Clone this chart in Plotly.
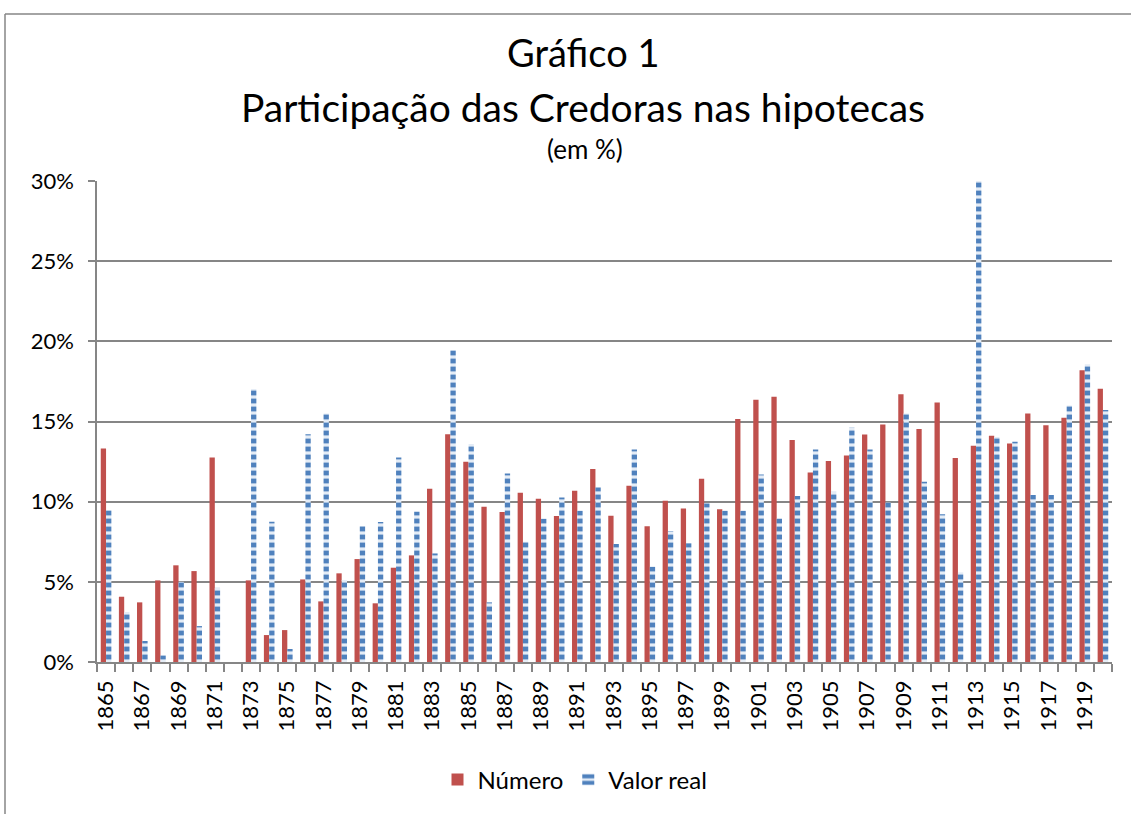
import plotly.graph_objects as go

years = list(range(1865, 1921))
numero = [13.32, 4.07, 3.72, 5.09, 6.03, 5.67, 12.76, 0.0, 5.09, 1.68,
          1.99, 5.15, 3.78, 5.53, 6.42, 3.66, 5.88, 6.65, 10.80, 14.21,
          12.49, 9.68, 9.35, 10.55, 10.18, 9.10, 10.68, 12.03, 9.12, 10.99,
          8.46, 10.06, 9.58, 11.43, 9.52, 15.15, 16.35, 16.54, 13.84, 11.82,
          12.53, 12.88, 14.19, 14.81, 16.70, 14.54, 16.19, 12.72, 13.48, 14.11,
          13.63, 15.50, 14.77, 15.23, 18.20, 17.04]
valor_real = [9.47, 3.12, 1.31, 0.40, 5.00, 2.24, 4.63, 0.0, 17.02, 8.75,
              0.81, 14.21, 15.50, 5.11, 8.48, 8.73, 12.76, 9.37, 6.77, 19.45,
              13.59, 3.72, 11.76, 7.50, 8.93, 10.26, 9.43, 10.89, 7.36, 13.26,
              5.94, 8.17, 7.40, 9.89, 9.43, 9.43, 11.70, 8.95, 10.35, 13.26,
              10.62, 14.63, 13.26, 9.95, 15.50, 11.24, 9.22, 5.59, 30.0, 14.04,
              13.73, 10.41, 10.41, 16.00, 18.57, 15.71]
tick_years = list(range(1865, 1921, 2))
y_ticks = [0, 5, 10, 15, 20, 25, 30]

FONT = "Lato"
RED = "#C0504D"
BLUE = "#4F81BD"
GRID = "#868686"

fig = go.Figure()
fig.add_trace(go.Bar(x=years, y=numero, name="Número", marker=dict(color=RED, line=dict(width=0))))
fig.add_trace(go.Bar(x=years, y=valor_real, name="Valor real",
                     marker=dict(color=BLUE, line=dict(width=0),
                                 pattern=dict(shape="-", fgcolor=BLUE, bgcolor="#E4ECF6",
                                              fgopacity=1, size=8, solidity=0.6,
                                              fillmode="replace"))))

L, R, T, B = 97, 19, 181, 152
W, H = 1131, 814
pw, ph = W - L - R, H - T - B

def px(x):
    return (x - L) / pw

def py(y):
    return (H - B - y) / ph

fig.update_layout(
    width=W, height=H,
    margin=dict(l=L, r=R, t=T, b=B, pad=0, autoexpand=False),
    paper_bgcolor="white", plot_bgcolor="white",
    barmode="group", bargap=0.415, bargroupgap=0,
    font=dict(family=FONT, color="black", size=22),
    showlegend=True,
    legend=dict(orientation="h", x=px(575), xanchor="center", y=py(780), yanchor="middle",
                font=dict(size=24), itemwidth=30, traceorder="normal"),
    xaxis=dict(range=[1864.5, 1920.5], tickmode="array", tickvals=tick_years,
               ticktext=[str(t) for t in tick_years], tickangle=-90, ticks="",
               showgrid=False, showline=True, linecolor=GRID, linewidth=1.5,
               tickfont=dict(size=22), ticklabelstandoff=8, automargin=False,
               minor=dict(tickmode="array", tickvals=[y - 0.5 for y in years] + [1920.5],
                          ticks="outside", ticklen=8, tickcolor=GRID, tickwidth=1.5, showgrid=False)),
    yaxis=dict(range=[0, 30], tickmode="array", tickvals=y_ticks,
               ticktext=[f"{v}%" for v in y_ticks], ticks="outside", ticklen=7,
               tickcolor=GRID, tickwidth=1.5, showgrid=True, gridcolor=GRID, gridwidth=1.5,
               showline=True, linecolor=GRID, linewidth=1.5, zeroline=False,
               tickfont=dict(size=22), ticklabelstandoff=10, automargin=False),
)

fig.add_annotation(text="Gráfico 1", x=px(583), y=py(52), xref="paper", yref="paper",
                   showarrow=False, font=dict(size=38, family=FONT), xanchor="center", yanchor="middle")
fig.add_annotation(text="Participação das Credoras nas hipotecas", x=px(583), y=py(107),
                   xref="paper", yref="paper", showarrow=False,
                   font=dict(size=39, family=FONT), xanchor="center", yanchor="middle")
fig.add_annotation(text="(em %)", x=px(585), y=py(149), xref="paper", yref="paper",
                   showarrow=False, font=dict(size=26, family=FONT), xanchor="center", yanchor="middle")

# chart border (cut off at right/bottom as in the reference)
fig.add_shape(type="line", xref="paper", yref="paper", x0=px(5), y0=py(14), x1=px(1140), y1=py(14),
              line=dict(color=GRID, width=1.5))
fig.add_shape(type="line", xref="paper", yref="paper", x0=px(5), y0=py(14), x1=px(5), y1=py(830),
              line=dict(color=GRID, width=1.5))

fig.write_html("out.html", config={"displayModeBar": False},
               post_script="document.body.style.margin='0px';")
